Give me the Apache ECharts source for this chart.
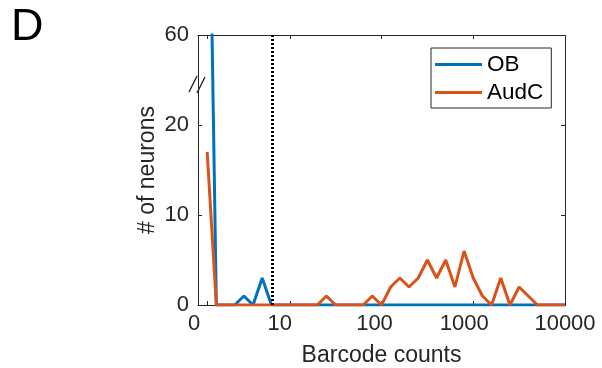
<!DOCTYPE html>
<html><head><meta charset="utf-8">
<script src="https://cdn.jsdelivr.net/npm/echarts@6/dist/echarts.min.js"></script>
<style>html,body{margin:0;padding:0;background:#fff}#c{width:602px;height:368px}</style>
</head><body><div id="c"></div>
<script>
// Bin centres (barcode counts, log-spaced bins)
const binCounts = [1.259,1.585,1.995,2.512,3.162,3.981,5.012,6.310,7.943,10,
  12.59,15.85,19.95,25.12,31.62,39.81,50.12,63.10,79.43,100,
  125.9,158.5,199.5,251.2,316.2,398.1,501.2,631.0,794.3,1000,
  1259,1585,1995,2512,3162,3981,5012,6310,7943,10000];
const obCounts   = [94,0,0,0,1,0,3,0,0,0, 0,0,0,0,0,0,0,0,0,0, 0,0,0,0,0,0,0,0,0,0, 0,0,0,0,0,0,0,0,0,0];
const audcCounts = [17,0,0,0,0,0,0,0,0,0, 0,0,0,1,0,0,0,0,1,0, 2,3,2,3,5,3,5,2,6,3, 1,0,3,0,2,1,0,0,0,0];
const threshold = 6.4;
const xTickValues = [1.259, 10, 100, 1000, 10000];
const xLabelValues = [1, 10, 100, 1000, 10000];
const xTickLabels = ['0', '10', '100', '1000', '10000'];
const yTickValues = [0, 10, 20, 60];
const seriesNames = ['OB', 'AudC'];

const FONT = 'Liberation Sans, Arial, Helvetica, sans-serif';
const AX = '#262626';
const chart = echarts.init(document.getElementById('c'), null, {renderer: 'canvas'});

const shifts = [8, 20, 14, 18, 0];
const rich = {};
shifts.forEach((p, i) => { rich['s' + i] = {fontSize: 22, fontFamily: FONT, color: AX, padding: [0, p, 0, 0]}; });

const yBreak = [{start: 24.67, end: 54.67, gap: 0}];

function pairs(vals) { return binCounts.map((x, i) => [x, vals[i]]); }

chart.setOption({
  animation: false,
  title: {text: 'D', left: 11, top: 5, padding: 0,
    textStyle: {fontSize: 45, fontWeight: 'normal', fontFamily: FONT, color: '#000'}},
  grid: {left: 198, top: 35, right: 37, bottom: 63, outerBoundsMode: 'none'},
  legend: {
    orient: 'vertical', left: 431, top: 48, padding: [5, 8, 4, 4], itemGap: 5,
    borderColor: AX, borderWidth: 1, itemWidth: 47, itemHeight: 3, icon: 'rect',
    textStyle: {fontSize: 22.5, fontFamily: FONT, color: '#000'},
    data: seriesNames
  },
  xAxis: [{
    type: 'log', logBase: 10, min: 1, max: 10000, position: 'bottom',
    name: 'Barcode counts', nameLocation: 'middle', nameGap: 39, nameMoveOverlap: false,
    nameTextStyle: {fontSize: 23, fontFamily: FONT, color: AX},
    axisLine: {onZero: false, lineStyle: {color: AX, width: 1}},
    axisTick: {inside: true, length: 4, lineStyle: {color: AX}, customValues: xTickValues},
    minorTick: {show: false}, splitLine: {show: false},
    axisLabel: {margin: 8, fontSize: 22, fontFamily: FONT, color: AX, customValues: xLabelValues, rich: rich,
      formatter: v => { const i = Math.round(Math.log10(v)); return '{s' + i + '|' + xTickLabels[i] + '}'; }}
  }, {
    type: 'log', logBase: 10, min: 1, max: 10000, position: 'top',
    axisLine: {onZero: false, lineStyle: {color: AX, width: 1}},
    axisTick: {inside: true, length: 4, lineStyle: {color: AX}, customValues: xTickValues},
    axisLabel: {show: false}, splitLine: {show: false}
  }],
  yAxis: [{
    type: 'value', min: 0, max: 60, position: 'left',
    breaks: yBreak, breakArea: {show: false},
    name: '# of neurons', nameLocation: 'middle', nameGap: 39, nameMoveOverlap: false,
    nameTextStyle: {fontSize: 23, fontFamily: FONT, color: AX},
    axisLine: {show: true, onZero: false, lineStyle: {color: AX, width: 1}},
    axisTick: {show: true, inside: true, length: 4, lineStyle: {color: AX}, customValues: yTickValues},
    splitLine: {show: false},
    axisLabel: {margin: 9, fontSize: 22, fontFamily: FONT, color: AX, customValues: yTickValues}
  }, {
    type: 'value', min: 0, max: 60, position: 'right',
    breaks: yBreak, breakArea: {show: false},
    axisLine: {show: true, onZero: false, lineStyle: {color: AX, width: 1}},
    axisTick: {show: true, inside: true, length: 4, lineStyle: {color: AX}, customValues: yTickValues},
    splitLine: {show: false}, axisLabel: {show: false}
  }],
  series: [{
    name: seriesNames[0], type: 'line', xAxisIndex: 0, yAxisIndex: 0,
    data: pairs(obCounts), showSymbol: false, symbol: 'none', clip: true,
    lineStyle: {color: '#0072BD', width: 3}, itemStyle: {color: '#0072BD'},
    markLine: {silent: true, symbol: ['none', 'none'], label: {show: false},
      lineStyle: {type: [2, 2], color: '#000', width: 3},
      data: [{xAxis: threshold}]}
  }, {
    name: seriesNames[1], type: 'line', xAxisIndex: 0, yAxisIndex: 0,
    data: pairs(audcCounts), showSymbol: false, symbol: 'none', clip: true,
    lineStyle: {color: '#D95319', width: 3}, itemStyle: {color: '#D95319'}
  }]
});

// axis-break marker "//" on the left axis, located through the axis scale
const by = chart.convertToPixel({yAxisIndex: 0}, yBreak[0].start);
const bx = chart.convertToPixel({xAxisIndex: 0}, 1);
const st = {stroke: AX, lineWidth: 1.4};
chart.setOption({graphic: [
  {type: 'line', shape: {x1: bx - 9, y1: by + 9, x2: bx - 1, y2: by - 7}, style: st, z: 100},
  {type: 'line', shape: {x1: bx - 1, y1: by + 10, x2: bx + 7, y2: by - 6}, style: st, z: 100}
]});
</script></body></html>
